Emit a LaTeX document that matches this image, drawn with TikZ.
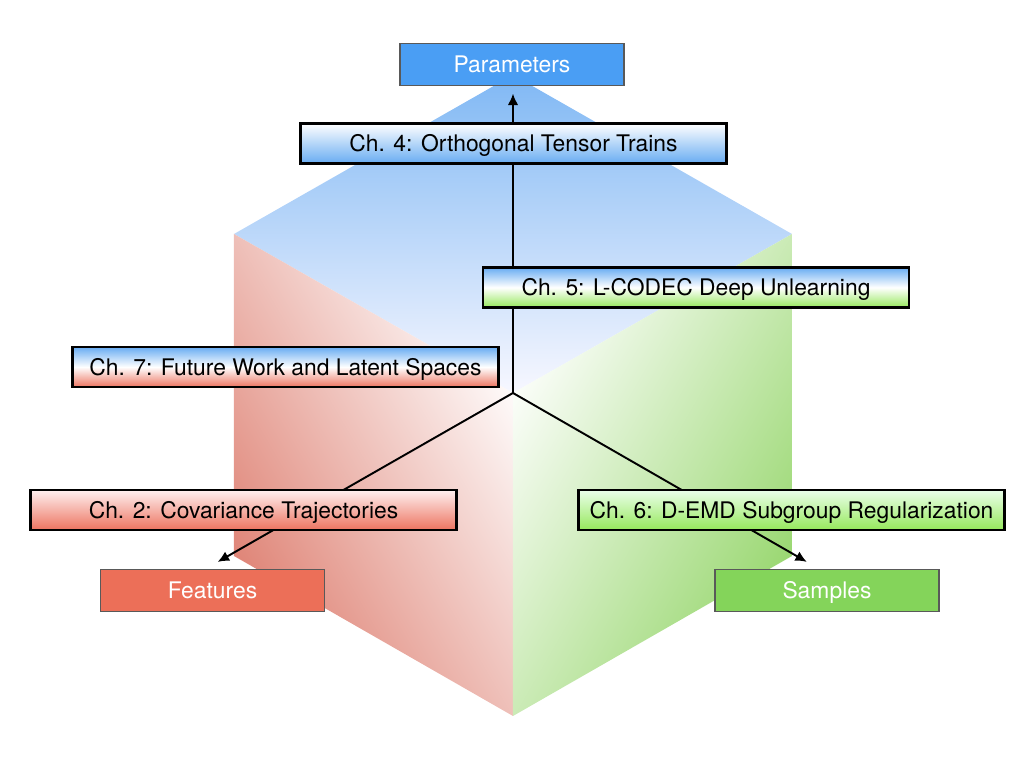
\documentclass[tikz,border=0pt]{standalone}
\usepackage{fontspec}
\setmainfont{TeX Gyre Heros}
\usetikzlibrary{arrows.meta, positioning}

\definecolor{parblue}{RGB}{74,158,244}
\definecolor{featred}{RGB}{236,111,88}
\definecolor{sampgreen}{RGB}{132,212,90}
\definecolor{faceblue}{RGB}{128,184,244}
\definecolor{facered}{RGB}{222,128,114}
\definecolor{facegreen}{RGB}{150,214,108}
\definecolor{chblue}{RGB}{104,172,242}
\definecolor{chred}{RGB}{236,116,96}
\definecolor{chgreen}{RGB}{150,232,92}

\begin{document}
\begin{tikzpicture}[
    box/.style={draw, rectangle, minimum width=8.52cm, minimum height=0.8cm, text height=0.94em, text depth=0em, align=center, line width=1.4pt, font=\fontsize{13}{15}\selectfont},
    dimbox/.style={draw=black!65, rectangle, minimum width=4.48cm, minimum height=0.84cm, text height=0.94em, text depth=0em, text=white, line width=0.7pt, font=\fontsize{13}{15}\selectfont},
    arr/.style={-{Latex[length=6.5pt, width=6pt]}, line width=1.1pt}
]
    \useasboundingbox (-10.26,-7.5) rectangle (10.22,7.86);

    % Cube corners
    \coordinate (hub) at (0,0);
    \coordinate (top) at (0,6.36);
    \coordinate (ul) at (-5.58,3.18);
    \coordinate (ll) at (-5.58,-3.26);
    \coordinate (bot) at (0,-6.46);
    \coordinate (lr) at (5.58,-3.26);
    \coordinate (ur) at (5.58,3.18);

    % Cube faces
    \shade[top color=faceblue, bottom color=blue!3!white] (top) -- (ur) -- (hub) -- (ul) -- cycle;
    \shade[top color=facered, bottom color=white, shading angle=120] (ul) -- (hub) -- (bot) -- (ll) -- cycle;
    \shade[top color=facegreen, bottom color=white, shading angle=240] (ur) -- (lr) -- (bot) -- (hub) -- cycle;

    % Axes
    \node[dimbox, fill=parblue] (par) at (-0.02,6.57) {Parameters};
    \node[dimbox, fill=featred] (feat) at (-6.01,-3.95) {Features};
    \node[dimbox, fill=sampgreen] (samp) at (6.28,-3.95) {Samples};

    % Arrows
    \draw[arr, shorten >=0.15cm] (hub) -- ([xshift=0.02cm]par.south);
    \draw[arr, shorten >=0.28cm] (hub) -- ([xshift=-0.14cm]feat.north);
    \draw[arr, shorten >=0.28cm] (hub) -- ([xshift=-0.16cm]samp.north);

    % Chapters
    \node[box, top color=white, bottom color=chblue] (ch4) at (0.01,4.99) {Ch. 4: Orthogonal Tensor Trains};
    \node[box, top color=chblue, bottom color=chgreen, middle color=white] (ch5) at (3.66,2.11) {Ch. 5: L-CODEC Deep Unlearning};
    \node[box, top color=chblue, bottom color=chred, middle color=white] (ch7) at (-4.55,0.52) {Ch. 7: Future Work and Latent Spaces};
    \node[box, top color=red!6!white, bottom color=chred] (ch2) at (-5.39,-2.34) {Ch. 2: Covariance Trajectories};
    \node[box, top color=green!8!white, bottom color=chgreen] (ch6) at (5.57,-2.34) {Ch. 6: D-EMD Subgroup Regularization};
\end{tikzpicture}
\end{document}
